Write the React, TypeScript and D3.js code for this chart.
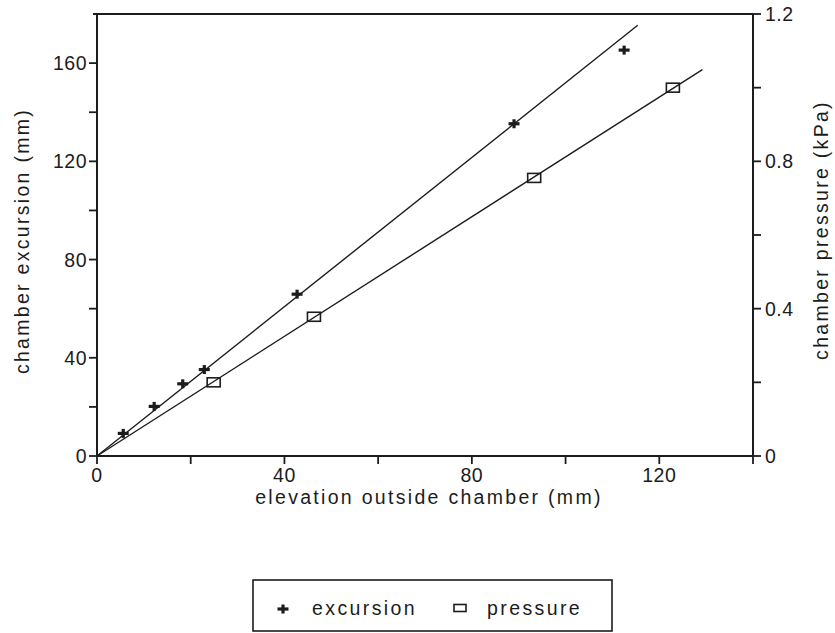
import React from "react";
import * as d3 from "d3";

// Measured chamber excursion (mm) against elevation outside the chamber (mm)
const excursionElevation = [5.6, 12.2, 18.3, 22.9, 42.7, 89.0, 112.5];
const excursionValues = [9.2, 20.2, 29.4, 35.2, 65.9, 135.3, 165.3];

// Measured chamber pressure (kPa) against elevation outside the chamber (mm)
const pressureElevation = [24.9, 46.3, 93.3, 122.9];
const pressureValues = [0.2, 0.378, 0.755, 1.0];

// Fitted lines through the origin
const excursionFit = { slope: 1.52, xEnd: 115.4 };
const pressureFit = { slope: 0.00812, xEnd: 129.2 };

// Axis ticks
const xMajorTicks = [0, 40, 80, 120];
const xMinorTicks = [20, 60, 100, 140];
const yLeftMajor = [0, 40, 80, 120, 160];
const yLeftMinor = [20, 60, 100, 140];
const yRightMajor = [0, 0.4, 0.8, 1.2];
const yRightMinor = [0.2, 0.6, 1.0];

const W = 835;
const H = 633;
const left = 97;
const right = 753;
const top = 14;
const bottom = 456;

const ink = "#1c1c1c";
const font = "'Liberation Sans', Arial, Helvetica, sans-serif";

export default function App() {
  const x = d3.scaleLinear().domain([0, 140]).range([left, right]);
  const yL = d3.scaleLinear().domain([0, 180]).range([bottom, top]);
  const yR = d3.scaleLinear().domain([0, 1.2]).range([bottom, top]);

  const lineGen = d3
    .line<[number, number]>()
    .x((d) => x(d[0]))
    .y((d) => d[1]);

  const excursionLine = lineGen([
    [0, yL(0)],
    [excursionFit.xEnd, yL(excursionFit.slope * excursionFit.xEnd)],
  ]);
  const pressureLine = lineGen([
    [0, yR(0)],
    [pressureFit.xEnd, yR(pressureFit.slope * pressureFit.xEnd)],
  ]);

  const plus = (cx: number, cy: number, key: string) => (
    <g key={key} stroke={ink} strokeWidth={3.2}>
      <line x1={cx - 5.5} x2={cx + 5.5} y1={cy} y2={cy} />
      <line x1={cx} x2={cx} y1={cy - 4.5} y2={cy + 4.5} />
    </g>
  );
  const box = (cx: number, cy: number, key: string, w = 13, h = 9) => (
    <rect
      key={key}
      x={cx - w / 2}
      y={cy - h / 2}
      width={w}
      height={h}
      fill="none"
      stroke={ink}
      strokeWidth={1.6}
    />
  );

  const tickLen = 8;
  const labelStyle = { fontFamily: font, fontSize: 19.5, fill: ink, letterSpacing: 0.5 } as const;
  const titleStyle = { fontFamily: font, fontSize: 19.5, fill: ink, letterSpacing: 2.3 } as const;
  const legendStyle = { fontFamily: font, fontSize: 19.5, fill: ink, letterSpacing: 2.4 } as const;

  return (
    <svg
      width={W}
      height={H}
      viewBox={`0 0 ${W} ${H}`}
      style={{ position: "absolute", left: 0, top: 0, background: "#fff" }}
    >
      <rect width={W} height={H} fill="#fff" />

      {/* frame */}
      <g stroke={ink} strokeWidth={2} fill="none">
        <line x1={left - 4} x2={right} y1={top} y2={top} />
        <line x1={left} x2={left} y1={top} y2={bottom} />
        <line x1={right} x2={right} y1={top} y2={bottom} />
        <line x1={left} x2={right} y1={bottom} y2={bottom} />
      </g>

      {/* bottom axis */}
      <g stroke={ink} strokeWidth={1.8}>
        {[...xMajorTicks, ...xMinorTicks].map((t) => (
          <line key={"xt" + t} x1={x(t)} x2={x(t)} y1={bottom} y2={bottom + tickLen} />
        ))}
      </g>
      {xMajorTicks.map((t) => (
        <text key={"xl" + t} x={x(t)} y={482} textAnchor="middle" style={labelStyle}>
          {t}
        </text>
      ))}

      {/* left axis */}
      <g stroke={ink} strokeWidth={1.8}>
        {[...yLeftMajor, ...yLeftMinor].map((t) => (
          <line key={"ylt" + t} x1={left - tickLen} x2={left} y1={yL(t)} y2={yL(t)} />
        ))}
      </g>
      {yLeftMajor.map((t) => (
        <text key={"yll" + t} x={87} y={yL(t) + 7} textAnchor="end" style={labelStyle}>
          {t}
        </text>
      ))}

      {/* right axis */}
      <g stroke={ink} strokeWidth={1.8}>
        {[...yRightMajor, ...yRightMinor].map((t) => (
          <line key={"yrt" + t} x1={right} x2={right + tickLen} y1={yR(t)} y2={yR(t)} />
        ))}
      </g>
      {yRightMajor.map((t) => (
        <text key={"yrl" + t} x={765} y={yR(t) + 7} textAnchor="start" style={labelStyle}>
          {t === 0 ? "0" : d3.format(".1f")(t)}
        </text>
      ))}

      {/* axis titles */}
      <text x={429} y={504} textAnchor="middle" style={titleStyle}>
        elevation outside chamber (mm)
      </text>
      <text transform="translate(29,241) rotate(-90)" textAnchor="middle" style={titleStyle}>
        chamber excursion (mm)
      </text>
      <text transform="translate(828,230) rotate(-90)" textAnchor="middle" style={titleStyle}>
        chamber pressure (kPa)
      </text>

      {/* markers */}
      {excursionElevation.map((e, i) => plus(x(e), yL(excursionValues[i]), "ex" + i))}
      {pressureElevation.map((e, i) => box(x(e), yR(pressureValues[i]), "pr" + i))}

      {/* fitted lines */}
      <path d={excursionLine ?? ""} fill="none" stroke={ink} strokeWidth={1.4} />
      <path d={pressureLine ?? ""} fill="none" stroke={ink} strokeWidth={1.4} />

      {/* legend */}
      <rect x={253} y={580} width={359} height={51} fill="none" stroke={ink} strokeWidth={1.6} />
      {plus(283, 609, "lg-ex")}
      <text x={312} y={615} style={legendStyle}>
        excursion
      </text>
      {box(460, 608, "lg-pr", 12, 7)}
      <text x={487} y={615} style={legendStyle}>
        pressure
      </text>
    </svg>
  );
}
